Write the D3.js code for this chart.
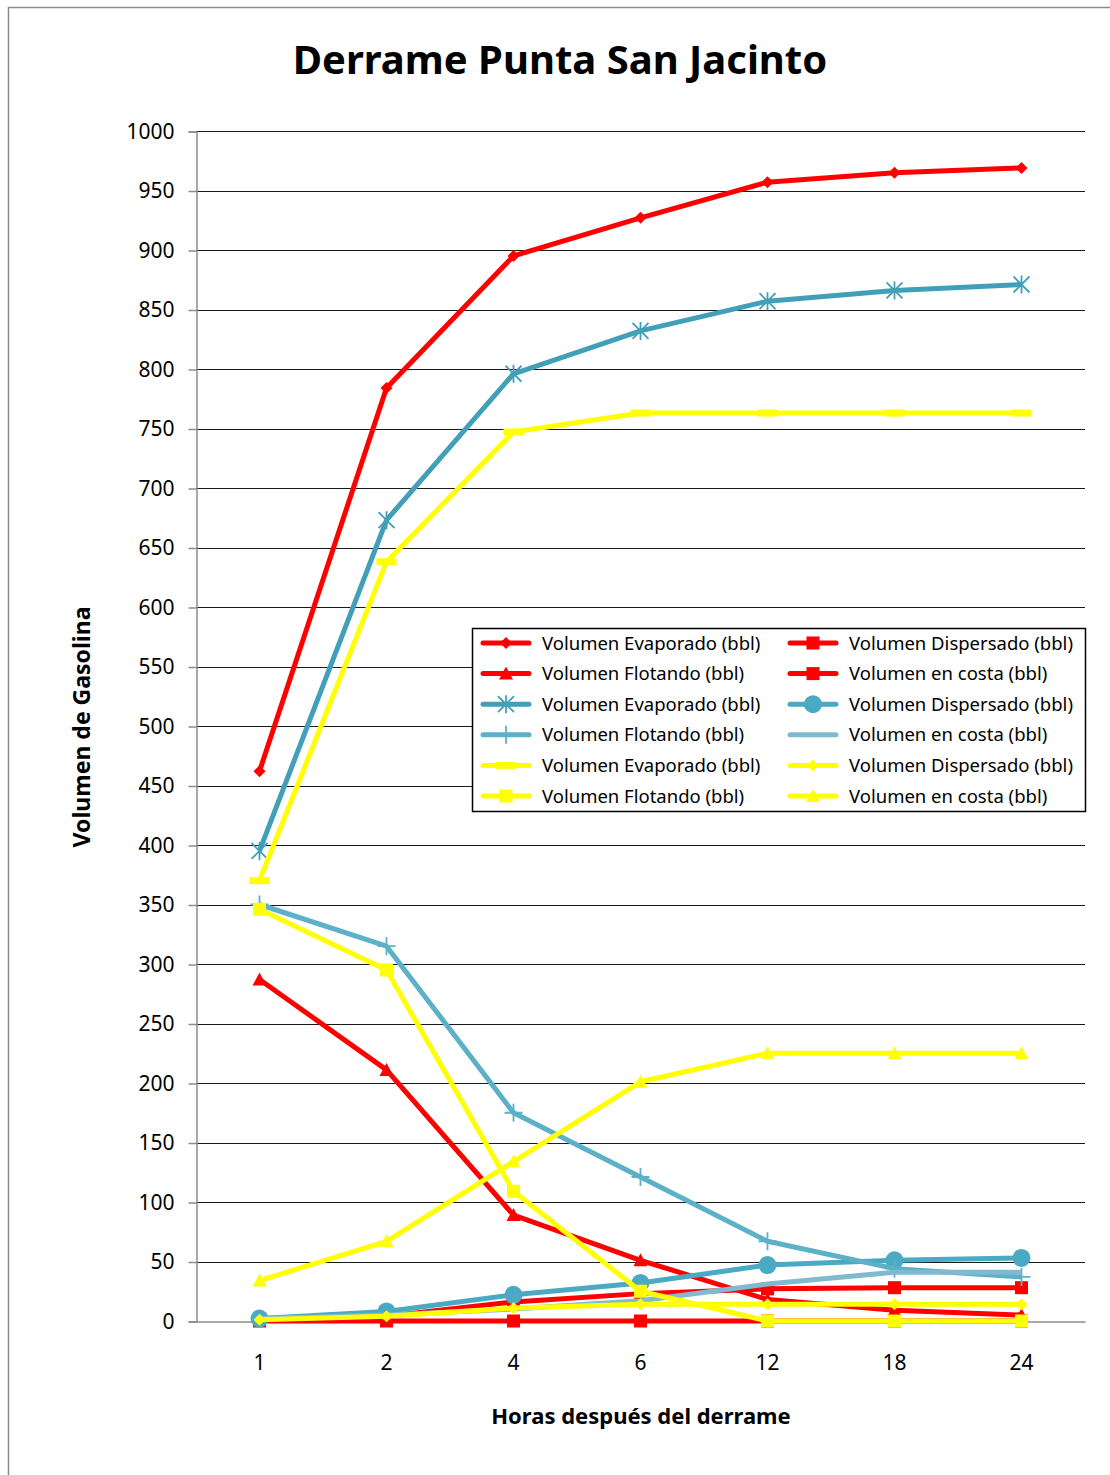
<!DOCTYPE html>
<html>
<head>
<meta charset="utf-8">
<script src="https://cdn.jsdelivr.net/npm/d3@7"></script>
<style>
  body { margin: 0; background: #fff; }
  text { font-family: "Noto Sans", "Open Sans", sans-serif; fill: #000; }
</style>
</head>
<body>
<svg id="chart" width="1110" height="1475"></svg>
<script>
// horas despues del derrame
var horas = ["1", "2", "4", "6", "12", "18", "24"];
var yTicks = d3.range(0, 1001, 50);

var nombres = ["Volumen Evaporado (bbl)", "Volumen Dispersado (bbl)", "Volumen Flotando (bbl)", "Volumen en costa (bbl)"];

// rojo
var rojoEvaporado = [462, 784, 895, 927, 957, 965, 969];
var rojoDispersado = [1, 4, 16, 23, 27, 28, 28];
var rojoFlotando = [287, 211, 89, 51, 18, 9, 5];
var rojoCosta = [0, 0, 0, 0, 0, 0, 0];
// azul
var azulEvaporado = [395, 673, 796, 832, 857, 866, 871];
var azulDispersado = [2, 8, 22, 32, 47, 51, 53];
var azulFlotando = [350, 315, 175, 121, 67, 44, 37];
var azulCosta = [2, 5, 10, 17, 31, 41, 41];
// amarillo
var amaEvaporado = [370, 638, 747, 763, 763, 763, 763];
var amaDispersado = [1, 4, 11, 14, 14, 14, 14];
var amaFlotando = [346, 295, 109, 25, 0, 0, 0];
var amaCosta = [34, 67, 134, 201, 225, 225, 225];

var series = [
  {name: nombres[0], values: rojoEvaporado, color: "#ff0000", marker: "diamond"},
  {name: nombres[1], values: rojoDispersado, color: "#ff0000", marker: "square"},
  {name: nombres[2], values: rojoFlotando, color: "#ff0000", marker: "triangle"},
  {name: nombres[3], values: rojoCosta, color: "#ff0000", marker: "square"},
  {name: nombres[0], values: azulEvaporado, color: "#429fb9", marker: "asterisk"},
  {name: nombres[1], values: azulDispersado, color: "#4aa9c3", marker: "circle"},
  {name: nombres[2], values: azulFlotando, color: "#5cb1c8", marker: "plus"},
  {name: nombres[3], values: azulCosta, color: "#7fbad0", marker: "none"},
  {name: nombres[0], values: amaEvaporado, color: "#ffff00", marker: "dash"},
  {name: nombres[1], values: amaDispersado, color: "#ffff00", marker: "diamond"},
  {name: nombres[2], values: amaFlotando, color: "#ffff00", marker: "square"},
  {name: nombres[3], values: amaCosta, color: "#ffff00", marker: "triangle"}
];

var svg = d3.select("#chart");
var margin = {left: 196, right: 1085, top: 131, bottom: 1321};

// marco exterior
svg.append("rect")
  .attr("x", 8.5).attr("y", 7.5)
  .attr("width", 1200).attr("height", 1600)
  .attr("fill", "none").attr("stroke", "#8c8c8c").attr("stroke-width", 1.5);

var x = d3.scaleBand().domain(horas).range([margin.left, margin.right]);
var y = d3.scaleLinear().domain([0, 1000]).range([margin.bottom, margin.top]);
function cx(i) { return x(horas[i]) + x.bandwidth() / 2; }

// grid
svg.append("g").selectAll("line")
  .data(yTicks.filter(function(d) { return d > 0; }))
  .enter().append("line")
  .attr("x1", margin.left).attr("x2", margin.right)
  .attr("y1", function(d) { return Math.round(y(d)) + 0.5; })
  .attr("y2", function(d) { return Math.round(y(d)) + 0.5; })
  .attr("stroke", "#1a1a1a").attr("stroke-width", 1);

// eje y
var yAxis = d3.axisLeft(y).tickValues(yTicks).tickFormat(d3.format("d")).tickSize(8).tickPadding(14);
var gy = svg.append("g")
  .attr("transform", "translate(" + (margin.left + 0.5) + ",0.5)")
  .call(yAxis);
gy.select(".domain").attr("stroke", "#8c8c8c").attr("stroke-width", 1.5);
gy.selectAll(".tick line").attr("stroke", "#8c8c8c").attr("stroke-width", 1.5);
gy.selectAll(".tick text").attr("font-size", 21).attr("font-family", "Noto Sans").attr("fill", "#000");

// eje x
var xAxis = d3.axisBottom(x).tickSize(0).tickPadding(34);
var gx = svg.append("g")
  .attr("transform", "translate(0," + (margin.bottom + 0.5) + ")")
  .call(xAxis);
gx.select(".domain").attr("stroke", "#8c8c8c").attr("stroke-width", 1.5);
gx.selectAll(".tick text").attr("font-size", 21).attr("font-family", "Noto Sans").attr("fill", "#000");

// titulos
svg.append("text").attr("x", 560).attr("y", 74)
  .attr("text-anchor", "middle").attr("font-size", 40).attr("font-weight", "bold")
  .text("Derrame Punta San Jacinto");
svg.append("text").attr("x", 641).attr("y", 1424)
  .attr("text-anchor", "middle").attr("font-size", 22).attr("font-weight", "bold")
  .text("Horas después del derrame");
svg.append("text")
  .attr("transform", "translate(90,727) rotate(-90)")
  .attr("text-anchor", "middle").attr("font-size", 23).attr("font-weight", "bold")
  .text("Volumen de Gasolina");

function drawMarker(g, type, color, px, py) {
  if (type === "diamond") {
    g.append("path").attr("d", "M" + px + "," + (py - 6) + "L" + (px + 6) + "," + py + "L" + px + "," + (py + 6) + "L" + (px - 6) + "," + py + "Z")
      .attr("fill", color);
  } else if (type === "square") {
    g.append("rect").attr("x", px - 6.5).attr("y", py - 6.5).attr("width", 13).attr("height", 13).attr("fill", color);
  } else if (type === "triangle") {
    g.append("path").attr("d", "M" + px + "," + (py - 7) + "L" + (px + 7) + "," + (py + 6) + "L" + (px - 7) + "," + (py + 6) + "Z")
      .attr("fill", color);
  } else if (type === "circle") {
    g.append("circle").attr("cx", px).attr("cy", py).attr("r", 9).attr("fill", color);
  } else if (type === "asterisk") {
    var r = 8;
    g.append("path")
      .attr("d", "M" + (px - r) + "," + (py - r) + "L" + (px + r) + "," + (py + r) +
        "M" + (px - r) + "," + (py + r) + "L" + (px + r) + "," + (py - r) +
        "M" + px + "," + (py - r - 1) + "L" + px + "," + (py + r + 1))
      .attr("stroke", color).attr("stroke-width", 1.8).attr("fill", "none");
  } else if (type === "plus") {
    var r2 = 9;
    g.append("path")
      .attr("d", "M" + (px - r2) + "," + py + "L" + (px + r2) + "," + py +
        "M" + px + "," + (py - r2) + "L" + px + "," + (py + r2))
      .attr("stroke", color).attr("stroke-width", 1.8).attr("fill", "none");
  } else if (type === "dash") {
    g.append("rect").attr("x", px - 10).attr("y", py - 3.5).attr("width", 20).attr("height", 7).attr("fill", color);
  }
}

var line = d3.line()
  .x(function(d, i) { return cx(i); })
  .y(function(d) { return y(d); });

series.forEach(function(s) {
  var g = svg.append("g");
  g.append("path")
    .attr("d", line(s.values))
    .attr("fill", "none")
    .attr("stroke", s.color)
    .attr("stroke-width", 5)
    .attr("stroke-linejoin", "round");
  s.values.forEach(function(v, i) {
    drawMarker(g, s.marker, s.color, cx(i), y(v));
  });
});

// leyenda
var leg = svg.append("g");
leg.append("rect")
  .attr("x", 472.5).attr("y", 628.5).attr("width", 613).attr("height", 183)
  .attr("fill", "#fff").attr("stroke", "#000").attr("stroke-width", 1.5);
series.forEach(function(s, i) {
  var col = i % 2, row = Math.floor(i / 2);
  var lx = col === 0 ? 483 : 790;
  var ly = 643 + row * 30.6;
  var lg = leg.append("g");
  lg.append("line").attr("x1", lx).attr("x2", lx + 46).attr("y1", ly).attr("y2", ly)
    .attr("stroke", s.color).attr("stroke-width", 5).attr("stroke-linecap", "round");
  drawMarker(lg, s.marker, s.color, lx + 23, ly);
  lg.append("text").attr("x", lx + 59).attr("y", ly + 6.5)
    .attr("font-size", 18.5).text(s.name);
});
</script>
</body>
</html>
